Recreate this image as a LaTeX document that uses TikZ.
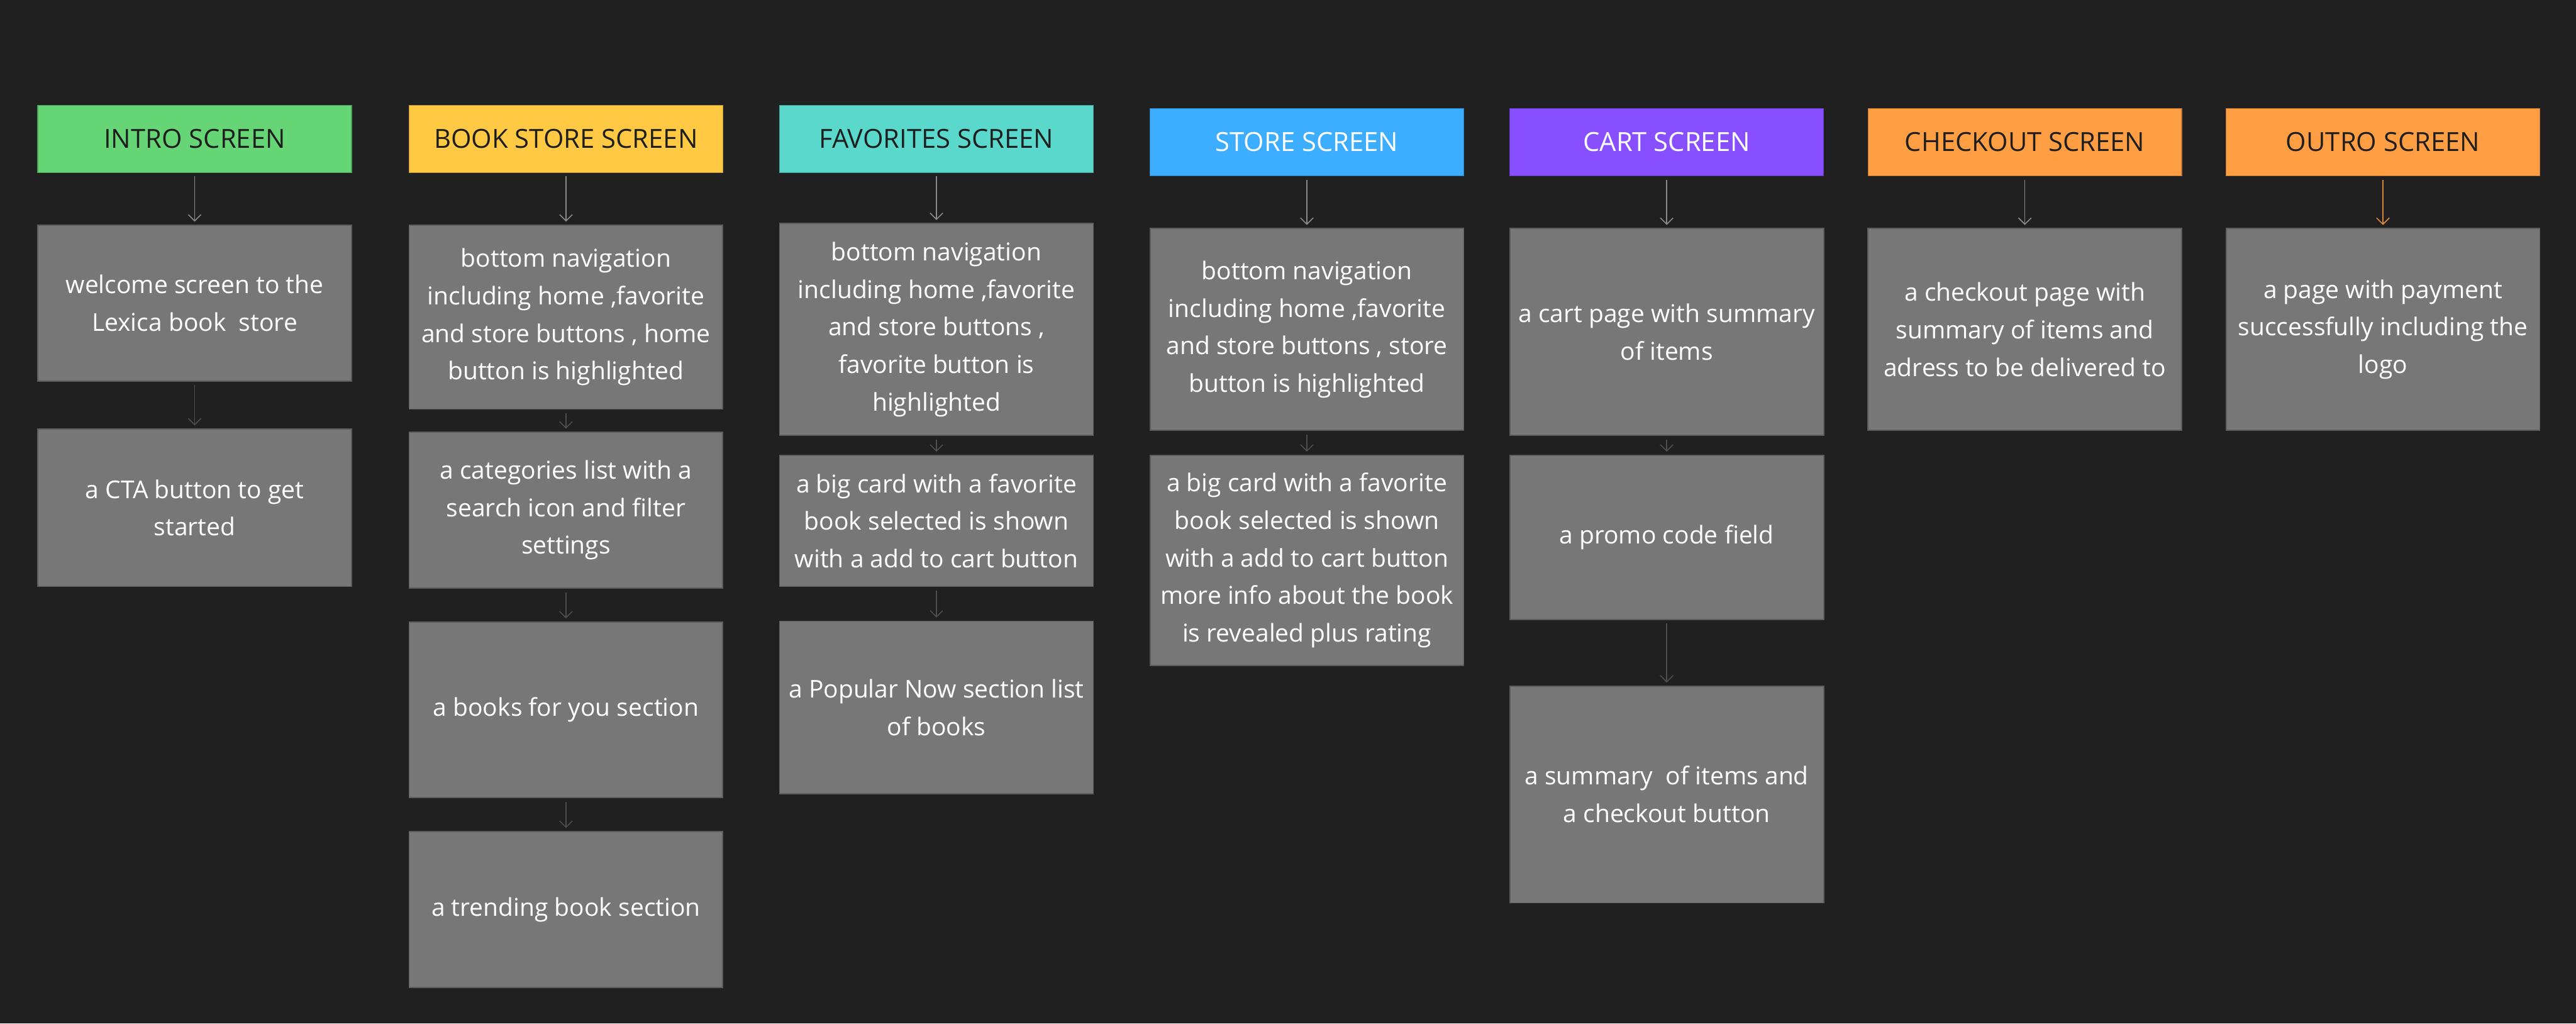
\documentclass[tikz,border=0pt]{standalone}
\usepackage{fontspec}
\setmainfont{Open Sans}
\usetikzlibrary{arrows.meta}
\definecolor{fondoOscuro}{HTML}{212021}
\definecolor{grisCaja}{HTML}{777777}
\definecolor{grisBorde}{HTML}{5C5C5C}
\definecolor{grisFlecha}{HTML}{8A8A8A}
\definecolor{grisTenue}{HTML}{4E4E4E}
\definecolor{textoOscuro}{HTML}{1E1E1E}
\definecolor{verdeIntro}{HTML}{66D575}
\definecolor{amarilloLibro}{HTML}{FFC943}
\definecolor{turquesaFav}{HTML}{5AD8CC}
\definecolor{azulTienda}{HTML}{3DADFF}
\definecolor{moradoCarro}{HTML}{874FFF}
\definecolor{naranjaPago}{HTML}{FF9E42}

\begin{document}
\begin{tikzpicture}[x=0.02cm,y=-0.02cm,
  >={Straight Barb[length=2.2pt,width=4.4pt]},
  pantalla/.style={fill=#1,draw=#1!75!black,line width=0.3pt,
    minimum width=3.82cm,minimum height=0.82cm,inner sep=0pt,
    text=textoOscuro,font=\fontsize{9.1}{10}\selectfont},
  caja/.style={fill=grisCaja,draw=grisBorde,line width=0.4pt,text=white,
    align=center,minimum width=3.82cm,inner sep=0pt,
    font=\fontsize{8.5}{13}\selectfont},
  flecha/.style={->,draw=grisFlecha,line width=0.35pt,
    shorten <=1.2pt,shorten >=1pt},
  enlace/.style={flecha,draw=grisTenue}]
  \fill[fondoOscuro] (0,0) rectangle (1568,623);
  \useasboundingbox (0,0) rectangle (1568,623);

  % cabeceras
  \node[pantalla=verdeIntro] (intro) at (118.5,84.5) {INTRO SCREEN};
  \node[pantalla=amarilloLibro] (libreria) at (344.5,84.5) {BOOK STORE SCREEN};
  \node[pantalla=turquesaFav] (favoritos) at (570,84.5) {FAVORITES SCREEN};
  \node[pantalla=azulTienda,text=white] (tienda) at (795.5,86.5) {STORE SCREEN};
  \node[pantalla=moradoCarro,text=white] (carro) at (1014.5,86.5) {CART SCREEN};
  \node[pantalla=naranjaPago] (pago) at (1232.5,86.5) {CHECKOUT SCREEN};
  \node[pantalla=naranjaPago] (salida) at (1450.5,86.5) {OUTRO SCREEN};

  % intro
  \node[caja,minimum height=1.90cm] (bienvenida) at (118.5,184.5)
    {welcome screen to the\\Lexica book\ \ store};
  \node[caja,minimum height=1.92cm] (cta) at (118.5,309)
    {a CTA button to get\\started};

  % book store
  \node[caja,minimum height=2.24cm] (navLib) at (344.5,193)
    {bottom navigation\\including home ,favorite\\and store buttons , home\\button is highlighted};
  \node[caja,minimum height=1.90cm] (categorias) at (344.5,310.5)
    {a categories list with a\\search icon and filter\\settings};
  \node[caja,minimum height=2.14cm] (paraTi) at (344.5,432)
    {a books for you section};
  \node[caja,minimum height=1.90cm] (tendencia) at (344.5,553.5)
    {a trending book section};

  % favorites
  \node[caja,minimum height=2.58cm] (navFav) at (570,200.5)
    {bottom navigation\\including home ,favorite\\and store buttons ,\\favorite button is\\highlighted};
  \node[caja,minimum height=1.60cm] (tarjetaFav) at (570,317)
    {a big card with a favorite\\book selected is shown\\with a add to cart button};
  \node[caja,minimum height=2.10cm] (populares) at (570,430.5)
    {a Popular Now section list\\of books};

  % store
  \node[caja,minimum height=2.46cm] (navTienda) at (795.5,200.5)
    {bottom navigation\\including home ,favorite\\and store buttons , store\\button is highlighted};
  \node[caja,minimum height=2.56cm] (tarjetaTienda) at (795.5,341)
    {a big card with a favorite\\book selected is shown\\with a add to cart button\\more info about the book\\is revealed plus rating};

  % cart
  \node[caja,minimum height=2.52cm] (resumenCarro) at (1014.5,202)
    {a cart page with summary\\of items};
  \node[caja,minimum height=2.00cm] (promo) at (1014.5,327)
    {a promo code field};
  \node[caja,minimum height=2.64cm] (totalCarro) at (1014.5,483.5)
    {a summary\ \ of items and\\a checkout button};

  % checkout + outro
  \node[caja,minimum height=2.46cm] (direccion) at (1232.5,200.5)
    {a checkout page with\\summary of items and\\adress to be delivered to};
  \node[caja,minimum height=2.46cm] (exito) at (1450.5,200.5)
    {a page with payment\\successfully including the\\logo};

  % flechas
  \draw[flecha] (intro) -- (bienvenida);
  \draw[enlace] (bienvenida) -- (cta);
  \draw[flecha] (libreria) -- (navLib);
  \draw[enlace] (navLib) -- (categorias);
  \draw[enlace] (categorias) -- (paraTi);
  \draw[enlace] (paraTi) -- (tendencia);
  \draw[flecha] (favoritos) -- (navFav);
  \draw[enlace] (navFav) -- (tarjetaFav);
  \draw[enlace] (tarjetaFav) -- (populares);
  \draw[flecha] (tienda) -- (navTienda);
  \draw[enlace] (navTienda) -- (tarjetaTienda);
  \draw[flecha] (carro) -- (resumenCarro);
  \draw[enlace] (resumenCarro) -- (promo);
  \draw[enlace] (promo) -- (totalCarro);
  \draw[flecha] (pago) -- (direccion);
  \draw[flecha,draw=naranjaPago!85!black] (salida) -- (exito);
\end{tikzpicture}
\end{document}
